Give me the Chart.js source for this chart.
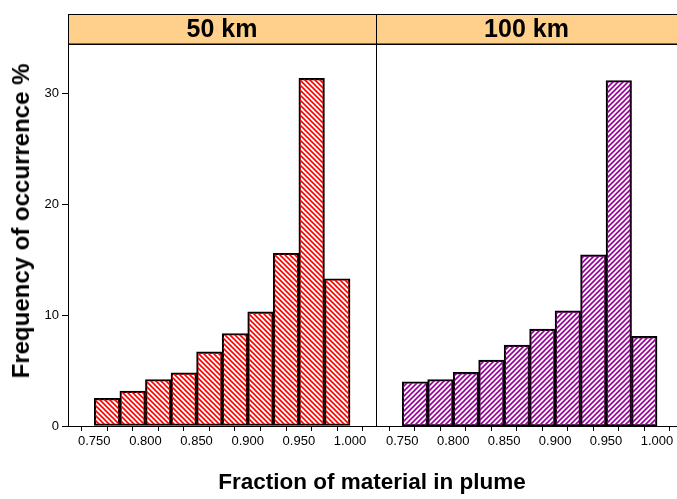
<!DOCTYPE html>
<html>
<head>
<meta charset="utf-8">
<script src="https://cdn.jsdelivr.net/npm/chart.js@4.4.1/dist/chart.umd.min.js"></script>
<style>
  body { margin: 0; background: #fff; }
  #wrap { position: relative; width: 677px; height: 499px; overflow: hidden; font-family: "Liberation Sans", Arial, sans-serif; }
  #cL { position: absolute; left: 0; top: 0; }
  #cR { position: absolute; left: 375px; top: 0; }
  .ttl { position: absolute; font-weight: bold; color: #000; white-space: nowrap; }
  #ytitle { left: 21px; top: 221px; font-size: 24px; transform: translate(-50%, -50%) rotate(-90deg); }
  #xtitle { left: 372px; top: 482px; font-size: 22.5px; transform: translate(-50%, -50%); }
</style>
</head>
<body>
<div id="wrap">
  <canvas id="cL" width="377" height="499"></canvas>
  <canvas id="cR" width="302" height="499"></canvas>
  <div id="ytitle" class="ttl">Frequency of occurrence %</div>
  <div id="xtitle" class="ttl">Fraction of material in plume</div>
</div>
<script>
// Datos del histograma (centro de cada clase, ancho 0.025)
const binCenters = [0.7625, 0.7875, 0.8125, 0.8375, 0.8625, 0.8875, 0.9125, 0.9375, 0.9625, 0.9875];
const freq50km  = [2.5, 3.15, 4.2, 4.8, 6.7, 8.35, 10.3, 15.6, 31.4, 13.3];
const freq100km = [4.0, 4.2, 4.85, 5.95, 7.3, 8.75, 10.4, 15.45, 31.2, 8.1];
const panelNames = ['50 km', '100 km'];
const xTicks = [0.75, 0.775, 0.8, 0.825, 0.85, 0.875, 0.9, 0.925, 0.95, 0.975, 1.0];
const xTickLabels = ['0.750', '', '0.800', '', '0.850', '', '0.900', '', '0.950', '', '1.000'];
const yTicks = [0, 10, 20, 30];

const FONT = '"Liberation Sans", Arial, sans-serif';

//Patron de rayas para las barras
function hatch(color, dir) {
    const s = 5;
    const c = document.createElement('canvas');
    c.width = s; c.height = s;
    const g = c.getContext('2d');
    g.strokeStyle = color;
    g.lineWidth = 1.6;
    g.beginPath();
    if (dir === 'down') {
        g.moveTo(-1, -1); g.lineTo(s + 1, s + 1);
        g.moveTo(-s - 1, -1); g.lineTo(1, s + 1);
        g.moveTo(s - 1, -1); g.lineTo(2 * s + 1, s + 1);
    } else {
        g.moveTo(-1, s + 1); g.lineTo(s + 1, -1);
        g.moveTo(-s - 1, s + 1); g.lineTo(1, -1);
        g.moveTo(s - 1, s + 1); g.lineTo(2 * s + 1, -1);
    }
    g.stroke();
    return g.createPattern(c, 'repeat');
}

//Caja del panel y franja con el titulo
const panelPlugin = {
    id: 'panel',
    afterDatasetsDraw(chart, args, opts) {
        const a = chart.chartArea;
        const ctx = chart.ctx;
        ctx.save();
        ctx.fillStyle = '#FFD08C';
        ctx.fillRect(a.left, 14, a.right - a.left, 30);
        ctx.strokeStyle = '#000';
        ctx.lineWidth = 1;
        ctx.strokeRect(a.left + 0.5, 14.5, a.right - a.left, 29.5);
        ctx.strokeRect(a.left + 0.5, a.top + 0.5, a.right - a.left, a.bottom - a.top);
        ctx.fillStyle = '#000';
        ctx.font = 'bold 25px ' + FONT;
        ctx.textAlign = 'center';
        ctx.textBaseline = 'middle';
        ctx.fillText(opts.label, (a.left + a.right) / 2, 30);
        ctx.restore();
    }
};

function makePanel(canvasId, values, label, fill, xMax, showY, pad) {
    const ctx = document.getElementById(canvasId).getContext('2d');
    return new Chart(ctx, {
        type: 'bar',
        data: {
            datasets: [{
                data: binCenters.map((x, i) => ({ x: x, y: values[i] })),
                backgroundColor: fill,
                borderColor: '#000',
                borderWidth: 1.5,
                borderSkipped: false,
                barPercentage: 1,
                categoryPercentage: 1
            }]
        },
        options: {
            responsive: false,
            animation: false,
            layout: { padding: pad },
            plugins: {
                legend: { display: false },
                tooltip: { enabled: false },
                panel: { label: label }
            },
            scales: {
                x: {
                    type: 'linear',
                    offset: false,
                    min: 0.7243,
                    max: xMax,
                    afterBuildTicks: s => { s.ticks = xTicks.map(v => ({ value: v })); },
                    afterFit: s => { s.height = 73; },
                    grid: { display: true, drawOnChartArea: false, drawTicks: true, tickLength: 5, color: '#000' },
                    border: { display: true, color: '#000' },
                    ticks: {
                        autoSkip: false, maxRotation: 0, padding: 3, color: '#000',
                        font: { family: FONT, size: 13 },
                        callback: (v, i) => xTickLabels[i]
                    }
                },
                y: {
                    display: showY,
                    min: 0,
                    max: 34.5,
                    afterBuildTicks: s => { s.ticks = yTicks.map(v => ({ value: v })); },
                    afterFit: s => { s.width = showY ? 68 : 0; },
                    grid: { display: true, drawOnChartArea: false, drawTicks: true, tickLength: 6, color: '#000' },
                    border: { display: true, color: '#000' },
                    ticks: { padding: 3, color: '#000', font: { family: FONT, size: 13 } }
                }
            }
        },
        plugins: [panelPlugin]
    });
}

makePanel('cL', freq50km, panelNames[0], hatch('#FF0000', 'down'), 1.0254, true, { top: 44, right: 1, bottom: 0, left: 0 });
makePanel('cR', freq100km, panelNames[1], hatch('#990099', 'up'), 1.0196, false, { top: 44, right: 0, bottom: 0, left: 1 });
</script>
</body>
</html>
